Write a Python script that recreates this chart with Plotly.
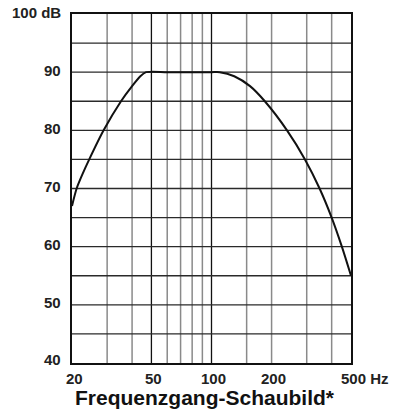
import numpy as np
import plotly.graph_objects as go

# Frequency response curve (Hz, dB)
freq_hz = [20, 21.1, 22.6, 24.4, 28.8, 35.2, 40, 44, 47, 60, 80, 100, 110, 130, 156, 185, 239, 294, 348, 400, 450, 500]
level_db = [67, 70, 72.5, 75, 80, 85, 87.6, 89.3, 90, 90, 90, 90, 90, 89.3, 87.6, 85, 80, 75, 70, 65, 60, 55]

# Axis labels
x_label_vals = [20, 50, 100, 200, 500]
x_label_text = ["20", "50", "100", "200", "500 Hz"]
y_label_vals = [40, 50, 60, 70, 80, 90, 100]
y_label_text = ["40", "50", "60", "70", "80", "90", "100 dB"]

# Grid positions
x_grid_major = [50, 100]
x_grid_minor = [30, 40, 60, 70, 80, 90, 150, 200, 300, 400]
y_grid = [45, 50, 55, 60, 65, 70, 75, 80, 85, 90, 95]

FONT = "Liberation Sans, Arial, Helvetica, sans-serif"

fig = go.Figure()
fig.add_trace(go.Scatter(
    x=freq_hz, y=level_db, mode="lines",
    line=dict(color="#111111", width=2, shape="spline", smoothing=0.75),
    hoverinfo="skip", showlegend=False,
))

shapes = []
for v in x_grid_minor:
    shapes.append(dict(type="line", xref="x", yref="paper", x0=v, x1=v, y0=0, y1=1,
                       line=dict(color="#8a8a8a", width=1.5), layer="below"))
for v in x_grid_major:
    shapes.append(dict(type="line", xref="x", yref="paper", x0=v, x1=v, y0=0, y1=1,
                       line=dict(color="#111111", width=1.3), layer="below"))
for v in y_grid:
    shapes.append(dict(type="line", xref="paper", yref="y", x0=0, x1=1, y0=v, y1=v,
                       line=dict(color="#2a2a2a", width=1.3), layer="below"))

annotations = []
for v, t in zip(x_label_vals, x_label_text):
    is_last = t.endswith("Hz")
    annotations.append(dict(
        x=np.log10(v), xref="x", y=0, yref="paper",
        text=f"<b>{t}</b>", showarrow=False,
        xanchor="left" if is_last else "center",
        xshift=-12 if is_last else 2,
        yanchor="top", yshift=-5,
        font=dict(family=FONT, size=15, color="#222222"),
    ))
for v, t in zip(y_label_vals, y_label_text):
    annotations.append(dict(
        x=0, xref="paper", y=v, yref="y",
        text=f"<b>{t}</b>", showarrow=False,
        xanchor="right", xshift=-9, yanchor="middle",
        yshift=2 if v != 40 else 4,
        font=dict(family=FONT, size=15, color="#222222"),
    ))
annotations.append(dict(
    x=0.477, xref="paper", y=0, yref="paper",
    text="<b>Frequenzgang-Schaubild*</b>", showarrow=False,
    xanchor="center", yanchor="top", yshift=-21,
    font=dict(family=FONT, size=21, color="#111111"),
))

fig.update_layout(
    width=394, height=410,
    margin=dict(l=72, r=43, t=12, b=47),
    paper_bgcolor="white", plot_bgcolor="white",
    shapes=shapes, annotations=annotations,
    xaxis=dict(type="log", range=[np.log10(20), np.log10(500)],
               showgrid=False, showticklabels=False, ticks="", zeroline=False,
               showline=True, linecolor="#111111", linewidth=1.5, mirror=True),
    yaxis=dict(range=[40, 100], showgrid=False, showticklabels=False, ticks="",
               zeroline=False, showline=True, linecolor="#111111", linewidth=1.5, mirror=True),
)

fig.write_html("out.html")
